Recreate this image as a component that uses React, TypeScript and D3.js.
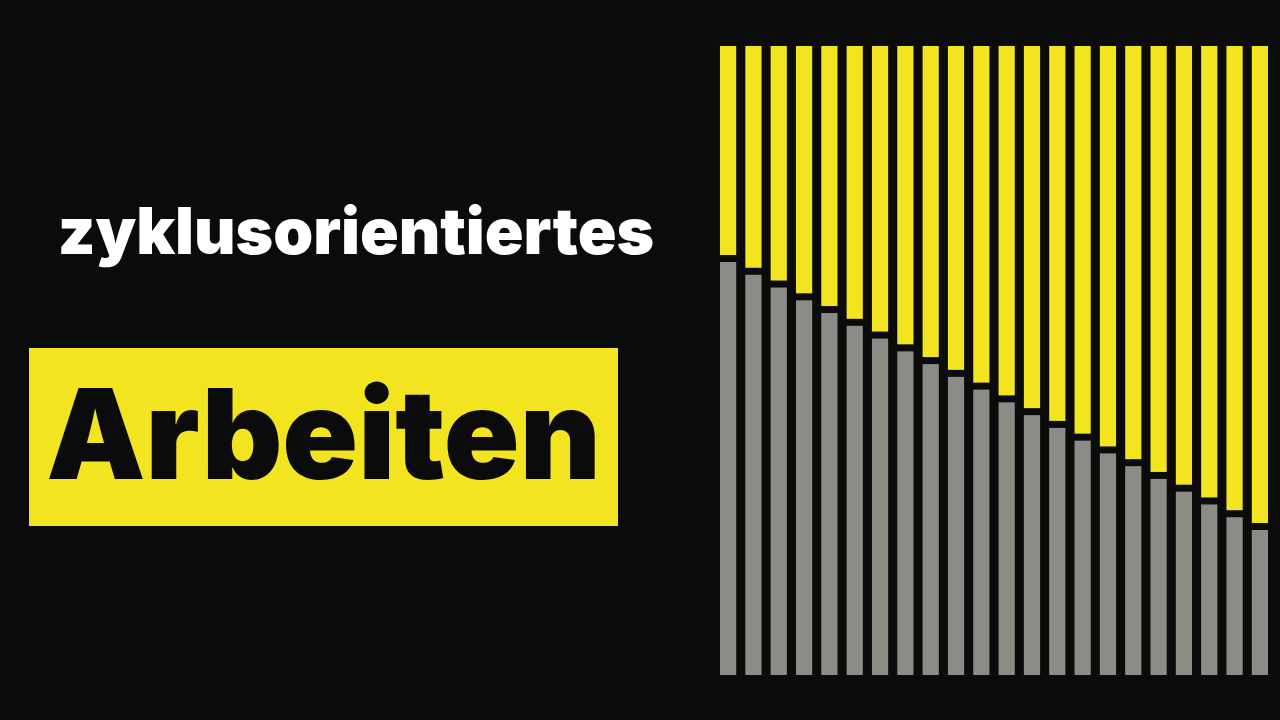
import React, { useEffect, useRef } from 'react';
import * as d3 from 'd3';

const W = 1280;
const H = 720;

// grey (lower) share per bar, yellow share is the rest up to 100
const greyValues = [66, 64, 62, 60, 58, 56, 54, 52, 50, 48, 46, 44, 42, 40, 38, 36, 34, 32, 30, 28, 26, 24];
const bars = greyValues.map((v, i) => ({ id: `b${i}`, grey: v, yellow: 100 - v }));

const titleLine = 'zyklusorientiertes';
const highlightWord = 'Arbeiten';

const BG = '#0b0b0b';
const YELLOW = '#f2e41e';
const GREY = '#8c8c87';

const App: React.FC = () => {
  const svgRef = useRef<SVGSVGElement>(null);

  useEffect(() => {
    document.body.style.margin = '0';
    document.body.style.background = BG;
    if (!svgRef.current) return;
    const svg = d3.select(svgRef.current);
    svg.selectAll('*').remove();

    svg.append('rect').attr('width', W).attr('height', H).attr('fill', BG);

    const plotTop = 46;
    const plotBottom = 675;
    const x = d3.scaleBand()
      .domain(bars.map(d => d.id))
      .range([720, 1268])
      .paddingInner(0.36)
      .paddingOuter(0);
    // split line scale, a bit taller than the plot so bars end flush
    const y = d3.scaleLinear().domain([0, 100]).range([679.6, 41.6]);
    const gap = 3.5;

    const g = svg.append('g');
    const cols = g.selectAll('g.col')
      .data(bars)
      .join('g')
      .attr('class', 'col')
      .attr('transform', d => `translate(${x(d.id)},0)`);

    cols.append('rect')
      .attr('y', plotTop)
      .attr('width', x.bandwidth())
      .attr('height', d => y(d.grey) - gap - plotTop)
      .attr('fill', YELLOW);

    cols.append('rect')
      .attr('y', d => y(d.grey) + gap)
      .attr('width', x.bandwidth())
      .attr('height', d => plotBottom - y(d.grey) - gap)
      .attr('fill', GREY);

    svg.append('text')
      .text(titleLine)
      .attr('x', 356)
      .attr('y', 254)
      .attr('text-anchor', 'middle')
      .attr('font-family', 'Inter, sans-serif')
      .attr('font-weight', 900)
      .attr('font-size', 64)
      .attr('fill', '#ffffff');

    svg.append('rect')
      .attr('x', 29)
      .attr('y', 348)
      .attr('width', 589)
      .attr('height', 178)
      .attr('fill', YELLOW);

    svg.append('text')
      .text(highlightWord)
      .attr('x', 323.5)
      .attr('y', 479)
      .attr('text-anchor', 'middle')
      .attr('font-family', 'Inter, sans-serif')
      .attr('font-weight', 900)
      .attr('font-size', 125)
      .attr('fill', BG);
  }, []);

  return (
    <div style={{ position: 'fixed', left: 0, top: 0, width: W, height: H, background: BG }}>
      <svg ref={svgRef} width={W} height={H} />
    </div>
  );
};

export default App;
